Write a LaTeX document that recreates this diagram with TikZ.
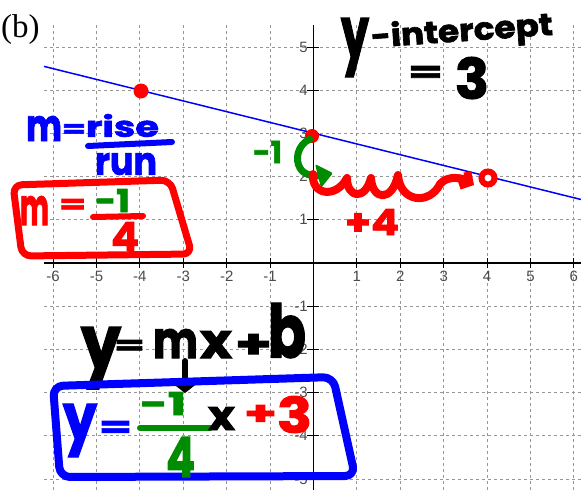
\documentclass[tikz,border=0pt]{standalone}
\usepackage{fontspec}
\usepackage{graphicx}
\usetikzlibrary{arrows.meta}
\setmainfont{Liberation Serif}
\newfontfamily\hand{Poppins}[BoldFeatures={FakeBold=2}]
\newfontfamily\tickfont{Liberation Sans}
\definecolor{mgreen}{RGB}{0,140,0}
\definecolor{mred}{RGB}{255,0,0}
\definecolor{mblue}{RGB}{0,0,255}
\definecolor{gridc}{RGB}{150,150,150}
\newcommand\hwtext[3]{\resizebox*{#1pt}{#2pt}{#3}}
\tikzset{
  gridline/.style={gridc, dash pattern=on 3pt off 3pt, line width=0.9pt},
  axisline/.style={black, line width=1.1pt},
  tickmark/.style={black, line width=1pt},
  ticklab/.style={inner sep=0pt, text=black!70, font=\tickfont\fontsize{15}{15}\selectfont},
  hw/.style={anchor=north west, inner sep=0pt, outer sep=0pt, font=\hand\bfseries},
  stroke/.style={line width=7pt, line cap=round, line join=round},
}
\begin{document}
\begin{tikzpicture}[x=1pt,y=-1pt]
\useasboundingbox (0,0) rectangle (581,490);
% grid
\foreach \i in {-6,...,-1,1,2,3,4,5,6}{
  \draw[gridline] ({313.5+43.4*\i},25) -- ({313.5+43.4*\i},490);
}
\foreach \j in {-5,...,-1,1,2,3,4,5}{
  \draw[gridline] (44,{263-43.2*\j}) -- (581,{263-43.2*\j});
}
% axes
\draw[axisline] (44,263) -- (581,263);
\draw[axisline] (313.5,25) -- (313.5,490);
\foreach \i in {-6,...,-1,1,2,3,4,5,6}{
  \draw[tickmark] ({313.5+43.4*\i},258) -- ({313.5+43.4*\i},268);
  \node[ticklab, anchor=north] (xl\i) at ({313.5+43.4*\i},271) {\i};
}
\foreach \j in {-5,...,-1,1,2,3,4,5}{
  \draw[tickmark] (307,{263-43.2*\j}) -- (319,{263-43.2*\j});
  \node[ticklab, anchor=east] (yl\j) at (308,{263-43.2*\j}) {\j};
}
% line y = -x/4 + 3
\coordinate (l1) at (44,66.4);
\coordinate (l2) at (581,199.5);
\draw[mblue, line width=1.5pt] (l1) -- (l2);
% label (b)
\node[anchor=base west, inner sep=0pt, font=\fontsize{33}{33}\selectfont] (lbl) at (1,37) {(b)};
% points
\node[circle, fill=mred, minimum size=15pt, inner sep=0pt] (pA) at (141,91) {};
\node[circle, fill=mred, minimum size=14pt, inner sep=0pt] (pB) at (312,136) {};
\node[circle, draw=mred, fill=white, line width=6pt, minimum size=13pt, inner sep=0pt] (pC) at (488,178) {};
% y-intercept = 3
\node[hw] (yi) at (341,18) {\hwtext{28}{59}{y}};
\node[hw, anchor=center, rotate=4] (icpt) at (462,33) {\hwtext{182}{33}{-intercept}};
\node[hw] (eq1) at (408,66) {\hwtext{35}{16}{=}};
\node[hw] (three1) at (455,57) {\hwtext{34}{42}{3}};
% m = rise/run
\node[hw, text=mblue] (bm) at (26,116) {\hwtext{36}{25}{m}};
\node[hw, text=mblue] (beq) at (62,124) {\hwtext{24}{13}{=}};
\node[hw, text=mblue] (rise) at (86,114) {\hwtext{73}{23}{rise}};
\draw[stroke, mblue, line width=6pt] (88,146) -- (172,142);
\node[hw, text=mblue] (run) at (95,153) {\hwtext{62}{22}{run}};
% red box m = -1/4
\draw[mred, line width=7pt, rounded corners=9pt, line join=round] (13,185) -- (170,180) -- (192,254) -- (22,256) -- cycle;
\node[hw, text=mred] (rm) at (20,196) {\hwtext{29}{29}{m}};
\node[hw, text=mred] (req) at (59,199) {\hwtext{27}{14}{=}};
\node[hw, text=mgreen] (rneg) at (95,189) {\hwtext{35}{23}{-1}};
\draw[stroke, mred, line width=6pt] (93,217) -- (143,216);
\node[hw, text=mred] (r4) at (111,222) {\hwtext{28}{29}{4}};
% green rise arrow
\node[hw, text=mgreen] (gl) at (253,141) {\hwtext{29}{22}{-1}};
\coordinate (gs) at (310,139);
\coordinate (ge) at (318,176);
\draw[stroke, mgreen] (gs) .. controls (297,145) and (295,160) .. (300,168) .. controls (304,175) and (312,176) .. (ge);
\fill[mgreen, rounded corners=2pt] (315,164) -- (333,173) -- (321,188) -- cycle;
% red run arrow
\coordinate (ws) at (313,174);
\coordinate (we) at (474,185);
\draw[mred, line width=8pt, line cap=round, line join=round, -{Straight Barb[length=7pt,width=16pt]}] (ws) .. controls (311,195) and (336,199) .. (347,178) .. controls (347,198) and (365,201) .. (371,178) .. controls (372,200) and (392,203) .. (398,175) .. controls (400,203) and (430,205) .. (440,184) .. controls (448,175) and (462,178) .. (we);
\node[hw, text=mred] (p4) at (345,209) {\hwtext{54}{26}{+4}};
% y = mx + b
\node[hw] (ey) at (81,327) {\hwtext{40}{62}{y}};
\node[hw] (eeq) at (114,340) {\hwtext{31}{14}{=}};
\node[hw] (em) at (153,329) {\hwtext{45}{29}{m}};
\node[hw] (ex) at (200,331) {\hwtext{32}{27}{x}};
\node[hw] (eplus) at (235,334) {\hwtext{37}{24}{+}};
\node[hw] (eb) at (268,303) {\hwtext{38}{55}{b}};
\coordinate (ma) at (185,361);
\coordinate (mb) at (185,393);
\draw[black, line width=6pt, line cap=round, line join=round, -{Straight Barb[length=7pt,width=18pt]}] (ma) -- (mb);
% blue box
\draw[mblue, line width=8pt, rounded corners=10pt, line join=round] (53,386) -- (333,377) -- (355,476) -- (60,477) -- cycle;
\node[hw, text=mblue] (by) at (63,404) {\hwtext{34}{53}{y}};
\node[hw, text=mblue] (beq2) at (99,421) {\hwtext{33}{16}{=}};
\node[hw, text=mgreen] (bneg) at (140,392) {\hwtext{46}{23}{-1}};
\draw[stroke, mgreen, line width=6pt] (140,428) -- (210,428);
\node[hw, text=mgreen] (b4) at (166,437) {\hwtext{29}{40}{4}};
\node[hw] (bx) at (208,407) {\hwtext{27}{23}{x}};
\node[hw, text=mred] (bplus) at (244,405) {\hwtext{33}{20}{+}};
\node[hw, text=mred] (b3) at (277,396) {\hwtext{35}{37}{3}};
\end{tikzpicture}
\end{document}
